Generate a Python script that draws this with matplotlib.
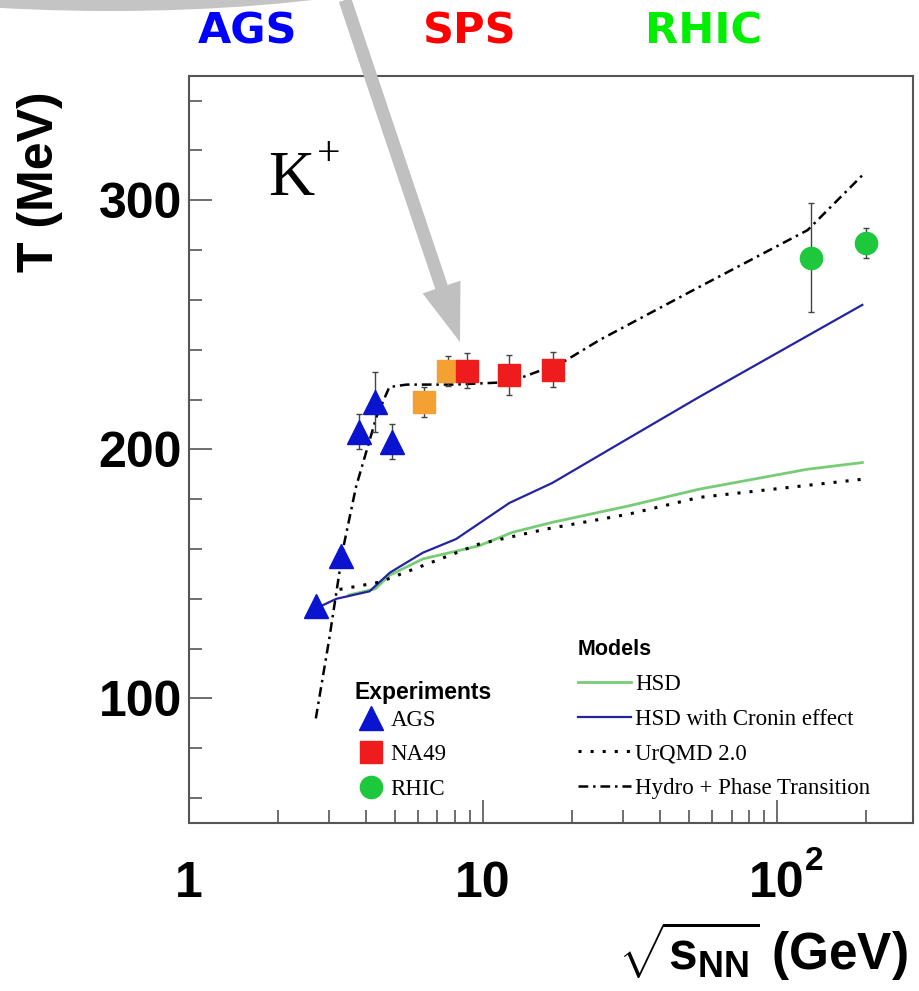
import matplotlib
matplotlib.use('Agg')
import matplotlib.pyplot as plt
import matplotlib.ticker as mticker
from matplotlib.lines import Line2D
from matplotlib.patches import FancyArrow, Ellipse
from matplotlib.font_manager import FontProperties

plt.rcParams['font.family'] = ['Liberation Sans', 'DejaVu Sans']
plt.rcParams['mathtext.fontset'] = 'custom'
plt.rcParams['mathtext.rm'] = 'Liberation Sans:bold'
plt.rcParams['mathtext.it'] = 'Liberation Sans:bold'
plt.rcParams['mathtext.bf'] = 'Liberation Sans:bold'
plt.rcParams['lines.scale_dashes'] = False

# --- data ---
ags_x = [2.7, 3.3, 3.8, 4.3, 4.9]
ags_y = [137, 157, 207, 219, 203]
ags_err = [2, 3, 7, 12, 7]

na49_low_x = [6.3, 7.6]
na49_low_y = [219, 231.5]
na49_low_err = [6, 6]

na49_x = [8.8, 12.3, 17.3]
na49_y = [231.5, 230, 232]
na49_err = [7, 8, 7]

rhic_x = [130, 200]
rhic_y = [277, 283]
rhic_err = [22, 6]

hsd_x = [3.5, 4.3, 4.82, 6.24, 9.7, 12.6, 17.2, 31.3, 54.3, 126.7, 195]
hsd_y = [141.5, 144, 149.5, 156, 161.3, 166.7, 170.7, 177.3, 184, 192, 194.7]

cronin_x = [2.7, 2.86, 3.17, 4.11, 4.82, 6.24, 8.1, 12.3, 17.2, 31.3, 54.3, 195]
cronin_y = [136, 137.5, 140, 143, 150.5, 158.5, 164, 178.5, 186.5, 204.5, 221, 258]

urqmd_x = [3.25, 3.34, 4.45, 6.24, 9.7, 16.4, 31.3, 54.3, 195]
urqmd_y = [143.8, 144, 146.7, 153.3, 162, 168, 174, 180.7, 188]

hydro_x = [2.7, 3.0, 3.34, 3.7, 4.34, 4.8, 5.5, 8.0, 12.3, 18.7, 25, 54, 127, 195]
hydro_y = [92, 124, 160, 185, 213, 225, 226, 226, 227, 235, 244, 265, 288, 310]

model_labels = ['HSD', 'HSD with Cronin effect', 'UrQMD 2.0', 'Hydro + Phase Transition']
exp_labels = ['AGS', 'NA49', 'RHIC']
xtick_vals = [1, 10, 100]
xtick_labels = ['1', '10', '10']
ytick_vals = [100, 200, 300]
ytick_labels = ['100', '200', '300']

c_ags = '#0a14d0'
c_red = '#ee1c1c'
c_orange = '#f5a032'
c_green = '#1ec83c'
c_hsd = '#78cc78'
c_cronin = '#2424a0'

fig = plt.figure(figsize=(9.2, 9.91), dpi=100)
ax = fig.add_axes([189/920, 1-823/991, (913-189)/920, (823-75.7)/991])
ax.set_xscale('log')
ax.set_xlim(1, 290)
ax.set_ylim(50, 350)

# models
ax.plot(hsd_x, hsd_y, color=c_hsd, lw=2.0, zorder=2)
ax.plot(cronin_x, cronin_y, color=c_cronin, lw=1.6, zorder=2)
ax.plot(urqmd_x, urqmd_y, color='black', lw=2.2, linestyle=(0, (2.2, 6.5)), zorder=2)
ax.plot(hydro_x, hydro_y, color='black', lw=1.8, linestyle=(0, (7, 3.5, 1.8, 3.5)), zorder=3)

# experiments
eb = dict(ecolor='#444444', elinewidth=1, capsize=2.5, capthick=1, linestyle='none', zorder=5)
ax.errorbar(ags_x, ags_y, yerr=ags_err, marker='^', ms=17, color=c_ags, mec=c_ags, **eb)
ax.errorbar(na49_low_x, na49_low_y, yerr=na49_low_err, marker='s', ms=16, color=c_orange, mec=c_orange, **eb)
ax.errorbar(na49_x, na49_y, yerr=na49_err, marker='s', ms=16, color=c_red, mec=c_red, **eb)
ax.errorbar(rhic_x, rhic_y, yerr=rhic_err, marker='o', ms=16, color=c_green, mec=c_green, **eb)

# axes styling
for s in ax.spines.values():
    s.set_linewidth(1.5)
    s.set_color('#555555')
ax.set_xticks(xtick_vals)
ax.xaxis.set_minor_locator(mticker.LogLocator(base=10, subs=range(2, 10)))
ax.xaxis.set_major_formatter(mticker.NullFormatter())
ax.xaxis.set_minor_formatter(mticker.NullFormatter())
ax.set_yticks(ytick_vals)
ax.set_yticklabels(ytick_labels, fontsize=36, fontweight='bold')
ax.yaxis.set_minor_locator(mticker.MultipleLocator(20))
ax.tick_params(which='both', direction='in', top=False, right=False, color='#555555', width=1.2)
ax.tick_params(which='major', length=16.5, pad=5)
ax.tick_params(which='minor', length=9.4)

for xv, lab in zip(xtick_vals, xtick_labels):
    ax.text(xv, -0.099, lab, transform=ax.get_xaxis_transform(), ha='center', va='baseline',
            fontsize=36, fontweight='bold')
ax.annotate('2', xy=(100, -0.099), xycoords=('data', 'axes fraction'), xytext=(20, 19.5),
            textcoords='offset points', fontsize=24, fontweight='bold', ha='left', va='baseline')

fig.text(40/920, 1-182/991, 'T (MeV)', rotation=90, ha='center', va='center', fontsize=36, fontweight='bold')
fig.text(908/920, 1-970/991, r'$\sqrt{s_{NN}}$ (GeV)', ha='right', va='baseline', fontsize=37, fontweight='bold')

# K+
fig.text(268/920, 1-195/991, 'K', fontsize=46, family='Liberation Serif', ha='left', va='baseline')
fig.text(317/920, 1-165/991, '+', fontsize=30, family='Liberation Serif', ha='left', va='baseline')

# accelerator labels
fig.text(248/920, 1-31/991, 'AGS', color='#0000ff', fontsize=31, fontweight='bold', family='DejaVu Sans', ha='center', va='center')
fig.text(470/920, 1-31/991, 'SPS', color='#ff0000', fontsize=31, fontweight='bold', family='DejaVu Sans', ha='center', va='center')
fig.text(704/920, 1-31/991, 'RHIC', color='#00ee00', fontsize=31, fontweight='bold', family='DejaVu Sans', ha='center', va='center')

# legends
serif = FontProperties(family='Liberation Serif', size=16.5)
model_handles = [Line2D([], [], color=c_hsd, lw=2.0),
                 Line2D([], [], color=c_cronin, lw=1.6),
                 Line2D([], [], color='black', lw=2.2, linestyle=(0, (2.2, 6.5))),
                 Line2D([], [], color='black', lw=1.8, linestyle=(0, (7, 3.5, 1.8, 3.5)))]
leg1 = ax.legend(model_handles, model_labels, title='Models', loc='upper left',
                 bbox_to_anchor=(578/920, 1-639/991), bbox_transform=fig.transFigure,
                 frameon=False, prop=serif,
                 title_fontproperties=FontProperties(family='Liberation Sans', weight='bold', size=15.5),
                 alignment='left', handlelength=2.3, handletextpad=0.2, labelspacing=0.6,
                 borderpad=0, borderaxespad=0)
ax.add_artist(leg1)

exp_handles = [Line2D([], [], marker='^', ms=17, color=c_ags, linestyle='none'),
               Line2D([], [], marker='s', ms=16, color=c_red, linestyle='none'),
               Line2D([], [], marker='o', ms=16, color=c_green, linestyle='none')]
leg2 = ax.legend(exp_handles, exp_labels, loc='upper left',
                 bbox_to_anchor=(355/920, 1-710/991), bbox_transform=fig.transFigure,
                 frameon=False, prop=serif,
                 handlelength=1.4, handletextpad=0.15, labelspacing=0.58,
                 borderpad=0, borderaxespad=0)
fig.text(355/920, 1-692/991, 'Experiments', ha='left', va='center', fontsize=16.5, fontweight='bold')

# gray arrow and arc overlay
fig.add_artist(Ellipse((1.1, 9.91 + 0.69), width=8.0, height=1.6, facecolor='#c4c4c4',
                       edgecolor='none', transform=fig.dpi_scale_trans))
fig.add_artist(FancyArrow(3.45, 9.91, 1.15, -3.42, width=0.13, head_width=0.40, head_length=0.58,
                          length_includes_head=True, color='#c0c0c0', lw=0,
                          transform=fig.dpi_scale_trans))

fig.savefig('out.png', dpi=100)
